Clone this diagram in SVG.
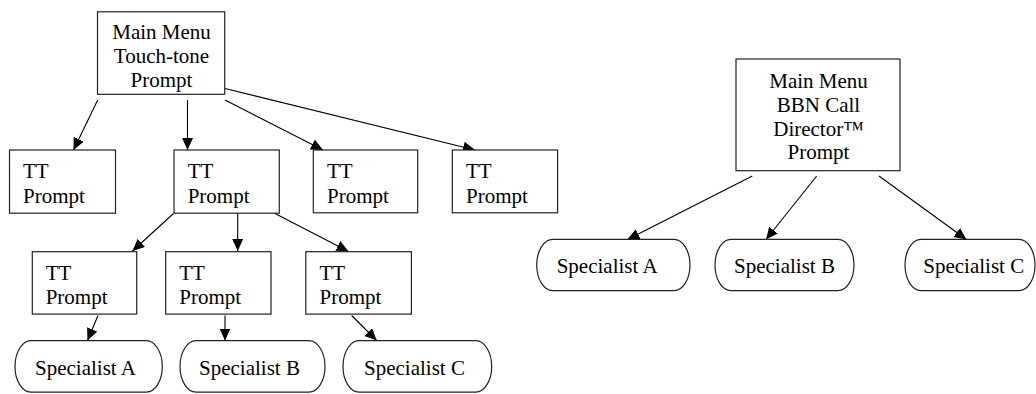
<svg xmlns="http://www.w3.org/2000/svg" width="1036" height="394" viewBox="0 0 1036 394">
<defs>
<marker id="ah" markerUnits="userSpaceOnUse" markerWidth="13" markerHeight="12" refX="12" refY="5.5" orient="auto">
<path d="M0,0 L12,5.5 L0,11 z" fill="#000"/>
</marker>
<style>
.box{fill:#fff;stroke:#222;stroke-width:1.2}
.pill{fill:#fff;stroke:#222;stroke-width:1.2}
.t{font-family:"Liberation Serif","Times New Roman",serif;font-size:21px;fill:#000}
.c{text-anchor:middle}
.e{stroke:#000;stroke-width:1.1;fill:none;marker-end:url(#ah)}
</style>
</defs>
<rect width="1036" height="394" fill="#fff"/>

<g id="connectors">
<line class="e" x1="97.7" y1="100" x2="73.5" y2="150"/>
<line class="e" x1="187.5" y1="100" x2="187.5" y2="150"/>
<line class="e" x1="225" y1="100" x2="323" y2="150"/>
<line class="e" x1="225" y1="88.5" x2="475" y2="150"/>
<line class="e" x1="173.5" y1="213.5" x2="132.5" y2="251"/>
<line class="e" x1="237.7" y1="213.5" x2="237.7" y2="251"/>
<line class="e" x1="275" y1="213.5" x2="348.5" y2="251.5"/>
<line class="e" x1="98" y1="315.5" x2="87.5" y2="340.5"/>
<line class="e" x1="225" y1="315.5" x2="225" y2="340.5"/>
<line class="e" x1="351.7" y1="315.5" x2="376.7" y2="340.5"/>
<line class="e" x1="752.3" y1="176" x2="627.5" y2="239.5"/>
<line class="e" x1="816.7" y1="176" x2="766" y2="239.5"/>
<line class="e" x1="879" y1="176" x2="966.5" y2="239.5"/>
</g>

<g id="main-tt">
<rect class="box" x="97.5" y="11.8" width="127.2" height="82.5"/>
<text class="t c" x="161.5" y="39">Main Menu</text>
<text class="t c" x="161.5" y="63">Touch-tone</text>
<text class="t c" x="161.5" y="87">Prompt</text>
</g>

<g id="tt1">
<rect class="box" x="9.5" y="150" width="106" height="63.2"/>
<text class="t" x="23" y="178">TT</text>
<text class="t" x="23" y="202.5">Prompt</text>
</g>
<g id="tt2">
<rect class="box" x="174" y="150" width="105.3" height="63.2"/>
<text class="t" x="187.7" y="178">TT</text>
<text class="t" x="187.7" y="202.5">Prompt</text>
</g>
<g id="tt3">
<rect class="box" x="313.3" y="150" width="104.4" height="62.8"/>
<text class="t" x="327" y="178">TT</text>
<text class="t" x="327" y="202.5">Prompt</text>
</g>
<g id="tt4">
<rect class="box" x="452.3" y="150" width="105.3" height="62.8"/>
<text class="t" x="466" y="178">TT</text>
<text class="t" x="466" y="202.5">Prompt</text>
</g>

<g id="tt2a">
<rect class="box" x="32.3" y="251.7" width="104.4" height="62.4"/>
<text class="t" x="45.7" y="279.5">TT</text>
<text class="t" x="45.7" y="304">Prompt</text>
</g>
<g id="tt2b">
<rect class="box" x="165.7" y="251.7" width="105.3" height="62.4"/>
<text class="t" x="179.3" y="279.5">TT</text>
<text class="t" x="179.3" y="304">Prompt</text>
</g>
<g id="tt2c">
<rect class="box" x="305.8" y="251.7" width="105.6" height="62.4"/>
<text class="t" x="319.5" y="279.5">TT</text>
<text class="t" x="319.5" y="304">Prompt</text>
</g>

<g id="spec-a-left">
<rect class="pill" x="15" y="340.7" width="147.3" height="51.4" rx="16" ry="25.7"/>
<text class="t" x="35" y="375">Specialist A</text>
</g>
<g id="spec-b-left">
<rect class="pill" x="180" y="340.7" width="145" height="51.4" rx="16" ry="25.7"/>
<text class="t" x="199" y="375">Specialist B</text>
</g>
<g id="spec-c-left">
<rect class="pill" x="343" y="340.7" width="148.7" height="51.4" rx="16" ry="25.7"/>
<text class="t" x="364" y="375">Specialist C</text>
</g>

<g id="main-bbn">
<rect class="box" x="736" y="59" width="164" height="111.7"/>
<text class="t c" x="818.5" y="88">Main Menu</text>
<text class="t c" x="818.5" y="111.5">BBN Call</text>
<text class="t c" x="818.5" y="135.5">Director™</text>
<text class="t c" x="818.5" y="159">Prompt</text>
</g>

<g id="spec-a-right">
<rect class="pill" x="536.7" y="239.3" width="153.3" height="51.4" rx="16" ry="25.7"/>
<text class="t" x="556.7" y="273.3">Specialist A</text>
</g>
<g id="spec-b-right">
<rect class="pill" x="715" y="239.3" width="139" height="51.4" rx="16" ry="25.7"/>
<text class="t" x="734" y="273.3">Specialist B</text>
</g>
<g id="spec-c-right">
<rect class="pill" x="905" y="239.3" width="130" height="51.4" rx="16" ry="25.7"/>
<text class="t" x="923.3" y="273.3">Specialist C</text>
</g>
</svg>
